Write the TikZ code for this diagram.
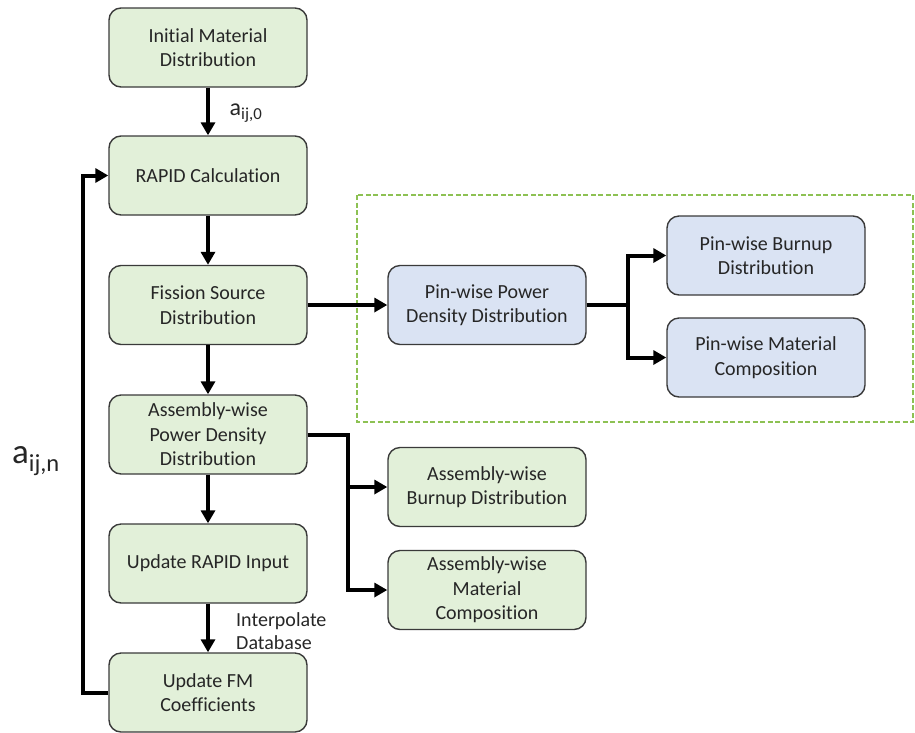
\documentclass[tikz,border=0pt]{standalone}
\usepackage{fontspec}
\setmainfont{Carlito}[Ligatures=NoCommon]
\usetikzlibrary{arrows.meta}
\definecolor{boxgreen}{HTML}{E2F0D9}
\definecolor{boxblue}{HTML}{DAE3F3}
\definecolor{edgegray}{HTML}{3A3A3A}
\definecolor{textgray}{HTML}{262626}
\definecolor{dashgreen}{HTML}{8DC153}
\begin{document}
\begin{tikzpicture}[x=1pt,y=-1pt,
  box/.style={draw=edgegray, line width=1.4pt, rounded corners=12pt,
    minimum width=198pt, minimum height=79pt, align=center, inner sep=2pt,
    font=\fontsize{20}{24.5}\selectfont, text=textgray},
  gbox/.style={box, fill=boxgreen},
  bbox/.style={box, fill=boxblue},
  flow/.style={line width=4pt, -{Triangle[length=13pt,width=14pt]}},
  lbl/.style={text=textgray, inner sep=0pt}]
\useasboundingbox (0,0) rectangle (915,732);

% main column
\node[gbox] (init) at (208,47.5) {Initial Material\\Distribution};
\node[gbox] (rapid) at (208,175.5) {RAPID Calculation};
\node[gbox] (fission) at (208,305) {Fission Source\\Distribution};
\node[gbox] (asmpow) at (208,434.5) {Assembly-wise\\Power Density\\Distribution};
\node[gbox] (upinput) at (208,563.5) {Update RAPID Input};
\node[gbox] (upfm) at (208,692.5) {Update FM\\Coefficients};

% pin-wise group
\draw[dashgreen, line width=1.8pt, dash pattern=on 5pt off 2.5pt] (357,195) rectangle (913,422);
\node[bbox] (pinpow) at (487,305) {Pin-wise Power\\Density Distribution};
\node[bbox] (pinburn) at (766,255.5) {Pin-wise Burnup\\Distribution};
\node[bbox] (pinmat) at (766,357.5) {Pin-wise Material\\Composition};

% assembly-wise outputs
\node[gbox] (asmburn) at (487,487) {Assembly-wise\\Burnup Distribution};
\node[gbox] (asmmat) at (487,590) {Assembly-wise\\Material\\Composition};

% connectors
\draw[flow] (init) -- (rapid);
\draw[flow] (rapid) -- (fission);
\draw[flow] (fission) -- (asmpow);
\draw[flow] (asmpow) -- (upinput);
\draw[flow] (upinput) -- (upfm);
\draw[flow] (upfm.west) -- ++(-25,0) |- (rapid.west);
\draw[flow] (fission.east) -- (pinpow.west);
\draw[flow] (pinpow.east) -- ++(41,0) |- (pinburn.west);
\draw[flow] (pinpow.east) -- ++(41,0) |- (pinmat.west);
\draw[flow] (asmpow.east) -- ++(40,0) |- (asmburn.west);
\draw[flow] (asmpow.east) -- ++(40,0) |- (asmmat.west);

% labels
\node[lbl, font=\fontsize{24}{27}\selectfont] (a0) at (246,113) {a\textsubscript{ij,0}};
\node[lbl, font=\fontsize{35}{38}\selectfont] (an) at (36,461) {a\textsubscript{ij,n}};
\node[lbl, anchor=west, align=left, font=\fontsize{20}{23}\selectfont] (interp) at (236,631) {Interpolate\\Database};
\end{tikzpicture}
\end{document}
